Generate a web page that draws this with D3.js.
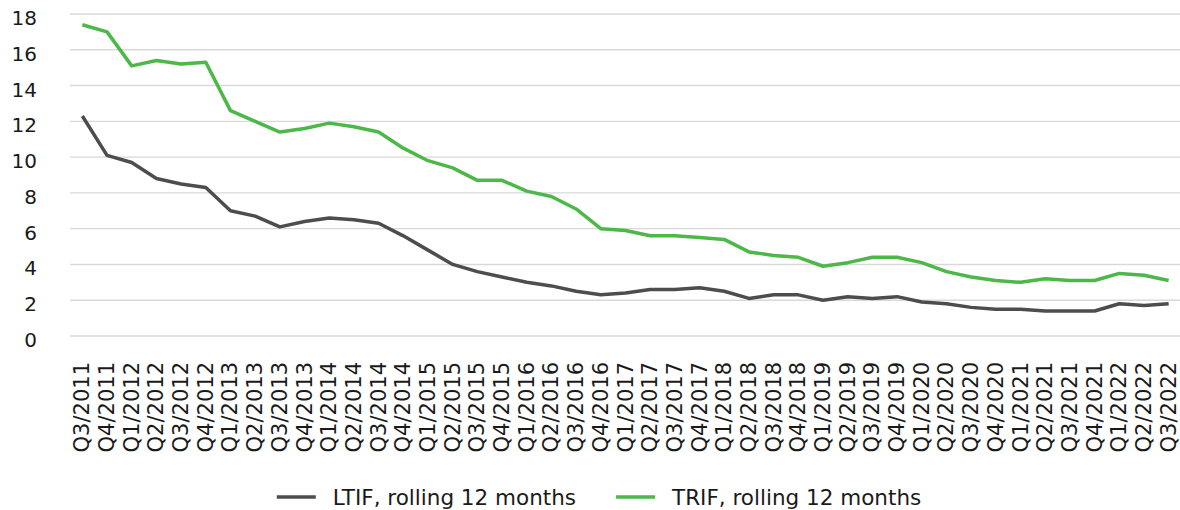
<!DOCTYPE html>
<html>
<head>
<meta charset="utf-8">
<script src="https://cdn.jsdelivr.net/npm/d3@7"></script>
<style>
  html, body { margin: 0; padding: 0; background: #fff; }
  #chart { width: 1180px; height: 510px; }
  text { font-family: Verdana, "DejaVu Sans", sans-serif; fill: #1a1a1a; }
</style>
</head>
<body>
<div id="chart"></div>
<script>
//Datos
const quarters = ['Q3/2011','Q4/2011','Q1/2012','Q2/2012','Q3/2012','Q4/2012','Q1/2013','Q2/2013','Q3/2013','Q4/2013',
    'Q1/2014','Q2/2014','Q3/2014','Q4/2014','Q1/2015','Q2/2015','Q3/2015','Q4/2015','Q1/2016','Q2/2016',
    'Q3/2016','Q4/2016','Q1/2017','Q2/2017','Q3/2017','Q4/2017','Q1/2018','Q2/2018','Q3/2018','Q4/2018',
    'Q1/2019','Q2/2019','Q3/2019','Q4/2019','Q1/2020','Q2/2020','Q3/2020','Q4/2020','Q1/2021','Q2/2021',
    'Q3/2021','Q4/2021','Q1/2022','Q2/2022','Q3/2022'];

const ltif = [12.3,10.1,9.7,8.8,8.5,8.3,7.0,6.7,6.1,6.4,
    6.6,6.5,6.3,5.6,4.8,4.0,3.6,3.3,3.0,2.8,
    2.5,2.3,2.4,2.6,2.6,2.7,2.5,2.1,2.3,2.3,
    2.0,2.2,2.1,2.2,1.9,1.8,1.6,1.5,1.5,1.4,
    1.4,1.4,1.8,1.7,1.8];

const trif = [17.4,17.0,15.1,15.4,15.2,15.3,12.6,12.0,11.4,11.6,
    11.9,11.7,11.4,10.5,9.8,9.4,8.7,8.7,8.1,7.8,
    7.1,6.0,5.9,5.6,5.6,5.5,5.4,4.7,4.5,4.4,
    3.9,4.1,4.4,4.4,4.1,3.6,3.3,3.1,3.0,3.2,
    3.1,3.1,3.5,3.4,3.1];

const yTicks = [0,2,4,6,8,10,12,14,16,18];

const seriesNames = ['LTIF, rolling 12 months', 'TRIF, rolling 12 months'];

//Colores
const COLOR_LTIF = '#4d4d4f',
    COLOR_TRIF = '#4cb848',
    COLOR_GRID = '#d9d9d9';

let series = [
    { name: seriesNames[0], values: ltif, color: COLOR_LTIF },
    { name: seriesNames[1], values: trif, color: COLOR_TRIF }
];

let width = 1180, height = 510;

let svg = d3.select('#chart')
    .append('svg')
    .attr('width', width)
    .attr('height', height);

// X (categorías)
let x = d3.scaleBand()
    .domain(quarters)
    .range([70, 1181]);

// Y
let y = d3.scaleLinear()
    .domain([0, 18])
    .range([336, 14]);

// Rejilla horizontal
svg.append('g')
    .selectAll('line')
    .data(yTicks)
    .enter()
    .append('line')
    .attr('x1', x.range()[0])
    .attr('x2', x.range()[1])
    .attr('y1', function(d) { return y(d); })
    .attr('y2', function(d) { return y(d); })
    .attr('stroke', COLOR_GRID)
    .attr('stroke-width', 1.4);

// Etiquetas eje Y
svg.append('g')
    .selectAll('text')
    .data(yTicks)
    .enter()
    .append('text')
    .attr('x', 37)
    .attr('y', function(d) { return y(d) + 4; })
    .attr('text-anchor', 'end')
    .attr('dominant-baseline', 'central')
    .style('font-size', '20px')
    .text(function(d) { return d; });

// Etiquetas eje X (rotadas)
svg.append('g')
    .selectAll('text')
    .data(quarters)
    .enter()
    .append('text')
    .attr('transform', function(d) {
        return 'translate(' + (x(d) + x.bandwidth() / 2) + ',362) rotate(-90)';
    })
    .attr('text-anchor', 'end')
    .attr('dominant-baseline', 'central')
    .style('font-size', '21px')
    .text(function(d) { return d; });

// Líneas
let line = d3.line()
    .x(function(d, i) { return x(quarters[i]) + x.bandwidth() / 2; })
    .y(function(d) { return y(d); });

svg.append('g')
    .selectAll('path')
    .data(series)
    .enter()
    .append('path')
    .attr('fill', 'none')
    .attr('stroke', function(d) { return d.color; })
    .attr('stroke-width', 3.5)
    .attr('stroke-linejoin', 'round')
    .attr('d', function(d) { return line(d.values); });

// Leyenda
let legend = svg.append('g');
let offset = 0;
series.forEach(function(s, i) {
    let g = legend.append('g').attr('transform', 'translate(' + offset + ',0)');
    g.append('line')
        .attr('x1', 0).attr('x2', 39)
        .attr('y1', 0).attr('y2', 0)
        .attr('stroke', s.color)
        .attr('stroke-width', 3.5);
    let t = g.append('text')
        .attr('x', 56)
        .attr('y', 0)
        .attr('dominant-baseline', 'central')
        .style('font-size', '21.5px')
        .text(s.name);
    offset += 56 + t.node().getComputedTextLength() + 40;
});
let legendW = offset - 40;
legend.attr('transform', 'translate(' + (599 - legendW / 2) + ',497)');
</script>
</body>
</html>
